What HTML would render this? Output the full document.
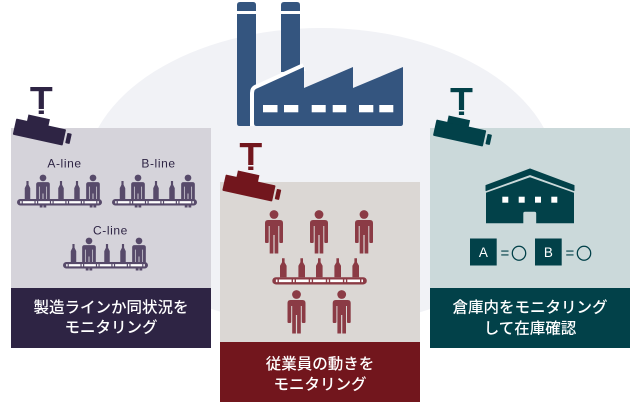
<!DOCTYPE html>
<html><head><meta charset="utf-8"><style>
html,body{margin:0;padding:0;background:#fff;width:640px;height:402px;overflow:hidden}
svg{display:block}
</style></head><body>
<svg width="640" height="402" viewBox="0 0 640 402" xmlns="http://www.w3.org/2000/svg">
<defs>
  <g id="person">
    <circle cx="0" cy="4.5" r="4.4"/>
    <path d="M-9,13 Q-9,10 -6,10 L6,10 Q9,10 9,13 L9,32 Q9,33 8,33 L6.3,33 Q5.3,33 5.3,32 L5.3,16 L4.3,16 L4.3,43.5 L0.6,43.5 L0.6,25 L-0.6,25 L-0.6,43.5 L-4.3,43.5 L-4.3,16 L-5.3,16 L-5.3,32 Q-5.3,33 -6.3,33 L-8,33 Q-9,33 -9,32 Z"/>
  </g>
  <path id="bottle" d="M-1.3,0 H1.3 V4 L3.3,7.5 V19 H-3.3 V7.5 L-1.3,4 Z"/>
  <g id="cam">
    <rect x="-11" y="0" width="22" height="4.2"/>
    <rect x="-2.6" y="4" width="5.2" height="18"/>
    <rect x="-2.6" y="23.5" width="5.2" height="3.5"/>
    <g transform="translate(-25,31.5) rotate(12.4)">
      <rect x="0" y="0" width="51" height="16.5" rx="1"/>
      <rect x="11" y="-6.5" width="22" height="7"/>
      <rect x="53" y="3" width="4.5" height="10.5" rx="0.8"/>
    </g>
  </g>
  <g id="smallline">
    <use href="#person" transform="translate(26,-24.5) scale(0.76)"/>
    <use href="#person" transform="translate(76,-24.5) scale(0.76)"/>
    <use href="#bottle" transform="translate(10.5,-18) scale(0.83,0.95)"/>
    <use href="#bottle" transform="translate(44,-18) scale(0.83,0.95)"/>
    <use href="#bottle" transform="translate(60,-18) scale(0.83,0.95)"/>
    <rect x="0" y="0" width="85" height="6.5" rx="3.25"/>
    <line x1="3.2" y1="3.25" x2="81.8" y2="3.25" stroke="#fff" stroke-width="2.2" stroke-dasharray="1.4 1.2 11.64 1.2"/>
  </g>
</defs>

<!-- background ellipse -->
<ellipse cx="321" cy="177" rx="236" ry="149" fill="#f1f2f6"/>

<!-- factory -->
<g fill="#34557f">
  <path d="M237,5 Q237,2 240,2 H253 Q256,2 256,5 V123.5 Q256,126 253.5,126 H239.5 Q237,126 237,123.5 Z"/>
  <path d="M281,5 Q281,2 284,2 H297 Q300,2 300,5 V72 H281 Z"/>
  <rect x="235" y="11" width="70" height="3" fill="#fff"/>
  <path d="M254,126 V93 Q254,89 258,88 L304,67" fill="none" stroke="#fff" stroke-width="8" stroke-linejoin="round"/>
  <path d="M254,123.5 V93 Q254,89 258,88 L304,67 V88 L353,67 V88 L403,67 V123.5 Q403,126 400.5,126 H256.5 Q254,126 254,123.5 Z"/>
  <g fill="#fff">
    <rect x="263" y="105" width="14.5" height="7.3"/>
    <rect x="284" y="105" width="14.3" height="7.3"/>
    <rect x="311.7" y="105" width="14" height="7.3"/>
    <rect x="332.7" y="105" width="13.5" height="7.3"/>
    <rect x="359" y="105" width="14.3" height="7.3"/>
    <rect x="379.3" y="105" width="14" height="7.3"/>
  </g>
</g>

<!-- LEFT PANEL -->
<rect x="11" y="128" width="200" height="160" fill="#d5d3da"/>
<rect x="11" y="288" width="200" height="60" fill="#2e2444"/>
<use href="#cam" transform="translate(41.3,87)" fill="#2e2444"/>
<g fill="#2e2444" font-family="'Liberation Sans','Noto Sans CJK JP',sans-serif" font-size="12" text-anchor="middle" letter-spacing="0.6">
  <text x="64.5" y="167.5">A-line</text>
  <text x="158.5" y="167.5">B-line</text>
  <text x="110.5" y="234.5">C-line</text>
</g>
<g fill="#574a6a">
  <use href="#smallline" transform="translate(17,199)"/>
  <use href="#smallline" transform="translate(112,199)"/>
  <use href="#smallline" transform="translate(63,262)"/>
</g>
<g fill="#fff" font-family="'Liberation Sans','Noto Sans CJK JP',sans-serif" font-size="15.5" font-weight="500" text-anchor="middle">
  <text x="111" y="312.5">製造ラインか同状況を</text>
  <text x="111" y="332.5">モニタリング</text>
</g>

<!-- MIDDLE PANEL -->
<rect x="220" y="182" width="200" height="160" fill="#dbd7d4"/>
<rect x="220" y="342" width="200" height="60" fill="#72161d"/>
<use href="#cam" transform="translate(250.8,143)" fill="#72161d"/>
<g fill="#8b3b45">
  <use href="#person" transform="translate(274,210)"/>
  <use href="#person" transform="translate(319,210)"/>
  <use href="#person" transform="translate(364,210)"/>
  <use href="#bottle" transform="translate(283.3,258.3)"/>
  <use href="#bottle" transform="translate(301.7,258.3)"/>
  <use href="#bottle" transform="translate(319.3,258.3)"/>
  <use href="#bottle" transform="translate(337.7,258.3)"/>
  <use href="#bottle" transform="translate(355.7,258.3)"/>
  <rect x="272.3" y="277.2" width="94.5" height="7.3" rx="3.65"/>
  <use href="#person" transform="translate(296.5,290)"/>
  <use href="#person" transform="translate(341.7,290)"/>
</g>
<line x1="275.9" y1="280.85" x2="363.2" y2="280.85" stroke="#fff" stroke-width="2.6" stroke-dasharray="1.6 1.4 12.7 1.4"/>
<g fill="#fff" font-family="'Liberation Sans','Noto Sans CJK JP',sans-serif" font-size="15.5" font-weight="500" text-anchor="middle">
  <text x="320" y="369">従業員の動きを</text>
  <text x="320" y="389.5">モニタリング</text>
</g>

<!-- RIGHT PANEL -->
<rect x="430" y="128" width="200" height="160" fill="#cbd9da"/>
<rect x="430" y="288" width="200" height="60" fill="#024149"/>
<use href="#cam" transform="translate(461.5,88)" fill="#024149"/>
<g fill="#024149">
  <path d="M486,185.5 L530,169 L574,185.5 V190.5 L530,174.5 L486,190.5 Z" stroke="#024149" stroke-width="1" stroke-linejoin="round"/>
  <path d="M486,192.8 L530,177.2 L574,192.8 V223.3 H536.2 V213.5 Q536.2,211.8 534.5,211.8 H525 Q523.3,211.8 523.3,213.5 V223.3 H486 Z"/>
  <rect x="470" y="238.5" width="26.7" height="27"/>
  <rect x="535" y="238.5" width="26.7" height="27"/>
</g>
<g fill="#fff">
  <rect x="502.3" y="196.7" width="6" height="6"/>
  <rect x="518.7" y="196.7" width="6" height="6"/>
  <rect x="535" y="196.7" width="6" height="6"/>
  <rect x="551.3" y="196.7" width="6" height="6"/>
</g>
<g font-family="'Liberation Sans','Noto Sans CJK JP',sans-serif" text-anchor="middle" fill="#fff" font-size="13.5">
  <text x="483.4" y="257">A</text>
  <text x="548.4" y="257">B</text>
</g>
<g font-family="'Liberation Sans','Noto Sans CJK JP',sans-serif" fill="#024149" font-size="15">
  <text x="500.5" y="258">=</text>
  <text x="565.5" y="258">=</text>
</g>
<g font-family="'Noto Sans CJK JP',sans-serif" fill="#024149" stroke="#024149" stroke-width="0.7" font-size="15.5" text-anchor="middle">
  <text x="519" y="259">○</text>
  <text x="584" y="259">○</text>
</g>
<g fill="#fff" font-family="'Liberation Sans','Noto Sans CJK JP',sans-serif" font-size="15.5" font-weight="500" text-anchor="middle">
  <text x="530" y="312.5">倉庫内をモニタリング</text>
  <text x="530" y="333.5">して在庫確認</text>
</g>
</svg>
</body></html>
